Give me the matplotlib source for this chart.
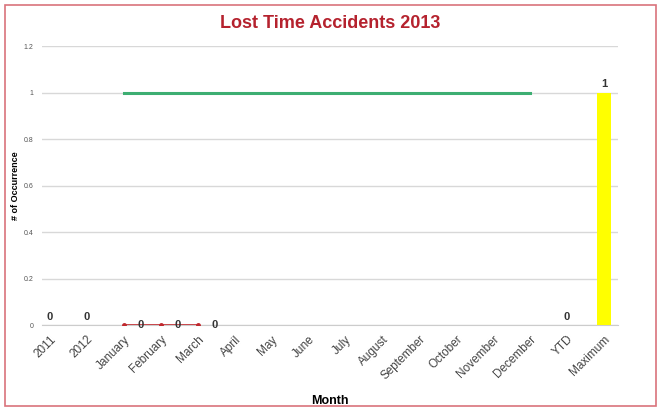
import matplotlib
matplotlib.use("Agg")
import matplotlib.pyplot as plt
from matplotlib.patches import Rectangle

plt.rcParams['font.family'] = ['Liberation Sans', 'DejaVu Sans']

categories = ["2011", "2012", "January", "February", "March", "April", "May", "June",
              "July", "August", "September", "October", "November", "December", "YTD", "Maximum"]
bar_labels = ["2011", "2012", "YTD", "Maximum"]
bar_values = [0, 0, 0, 1]
month_labels = ["January", "February", "March"]
month_values = [0, 0, 0]
target_labels = ["January", "February", "March", "April", "May", "June", "July", "August",
                 "September", "October", "November", "December"]
target_values = [1] * 12
y_ticks = [0, 0.2, 0.4, 0.6, 0.8, 1, 1.2]

pos = {c: i for i, c in enumerate(categories)}

fig = plt.figure(figsize=(6.61, 4.11), dpi=100)
fig.patches.append(Rectangle((0.008, 0.012), 0.984, 0.976, transform=fig.transFigure,
                             fill=False, edgecolor="#d9737c", linewidth=1.2))
ax = fig.add_axes([0.0635, 0.209, 0.872, 0.679])

# bars for yearly totals and the maximum
bx = [pos[c] for c in bar_labels]
bar_colors = ["#ffff00"] * len(bar_values)
ax.bar(bx, bar_values, width=0.4, color=bar_colors, zorder=3)
for x, v in zip(bx, bar_values):
    ax.text(x, v + 0.015, f"{v:g}", ha="center", va="bottom", fontsize=8,
            fontweight="bold", color="#333333", zorder=5)

# monthly occurrences
mx = [pos[c] for c in month_labels]
ax.plot(mx, month_values, color="#c0282d", linewidth=1.2, marker="o", markersize=2.5, zorder=4)
for x, v in zip(mx, month_values):
    ax.text(x + 0.45, v, f"{v:g}", ha="center", va="center", fontsize=8,
            fontweight="bold", color="#333333", zorder=5)

# target line
tx = [pos[c] for c in target_labels]
ax.plot(tx, target_values, color="#3dae72", linewidth=2.2, zorder=4)

ax.set_xlim(-0.22, 15.39)
ax.set_ylim(0, 1.2)
ax.set_yticks(y_ticks)
ax.set_yticklabels([f"{t:g}" for t in y_ticks], fontsize=5, color="#555555")
ax.set_xticks(range(len(categories)))
ax.set_xticklabels(categories, rotation=45, ha="right", rotation_mode="anchor",
                   fontsize=8.5, color="#444444")
ax.tick_params(axis="both", length=0, pad=6)
ax.grid(axis="y", color="#d8d8d8", linewidth=1, zorder=0)
for s in ["top", "right", "left"]:
    ax.spines[s].set_visible(False)
ax.spines["bottom"].set_color("#cccccc")

ax.set_xlabel("Month", fontsize=9, fontweight="bold", labelpad=9)
ax.set_ylabel("# of Occurrence", fontsize=6.5, fontweight="bold", labelpad=3)
ax.set_title("Lost Time Accidents 2013", fontsize=13, fontweight="bold",
             color="#b5222e", pad=13)

fig.savefig("out.png", dpi=100)
